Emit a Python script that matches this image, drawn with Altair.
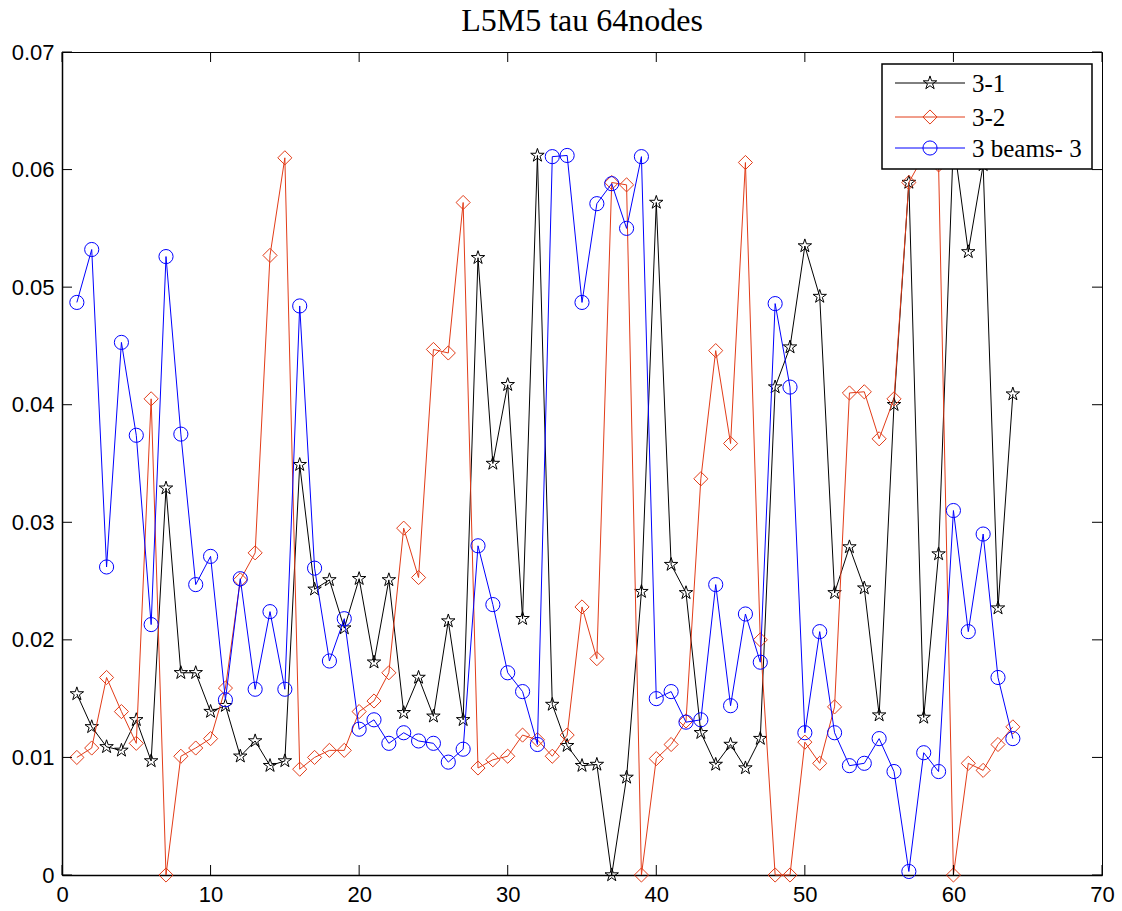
import altair as alt
import pandas as pd

# ---------------- data ----------------
x_idx = list(range(1, 65))

s31 = [0.0154, 0.0126, 0.0109, 0.0106, 0.0132, 0.0097, 0.0329, 0.0172, 0.0172, 0.0139,
       0.0144, 0.0101, 0.0114, 0.0093, 0.0097, 0.0349, 0.0243, 0.0251, 0.0210, 0.0252,
       0.0181, 0.0251, 0.0138, 0.0168, 0.0135, 0.0216, 0.0132, 0.0525, 0.0350, 0.0417,
       0.0218, 0.0612, 0.0145, 0.0110, 0.0093, 0.0094, 0.0000, 0.0083, 0.0241, 0.0572,
       0.0264, 0.0240, 0.0121, 0.0094, 0.0111, 0.0091, 0.0116, 0.0415, 0.0449, 0.0535,
       0.0492, 0.0240, 0.0279, 0.0244, 0.0136, 0.0400, 0.0589, 0.0134, 0.0273, 0.0625,
       0.0530, 0.0604, 0.0227, 0.0409]

s32 = [0.0100, 0.0108, 0.0168, 0.0139, 0.0112, 0.0405, 0.0000, 0.0101, 0.0108, 0.0116,
       0.0159, 0.0251, 0.0274, 0.0527, 0.0610, 0.0090, 0.0100, 0.0106, 0.0106, 0.0139,
       0.0148, 0.0172, 0.0295, 0.0253, 0.0447, 0.0444, 0.0572, 0.0091, 0.0098, 0.0101,
       0.0119, 0.0115, 0.0101, 0.0119, 0.0228, 0.0184, 0.0589, 0.0587, 0.0000, 0.0099,
       0.0111, 0.0131, 0.0337, 0.0446, 0.0367, 0.0606, 0.0200, 0.0000, 0.0000, 0.0113,
       0.0095, 0.0143, 0.0410, 0.0411, 0.0371, 0.0405, 0.0589, 0.0612, 0.0604, 0.0000,
       0.0095, 0.0089, 0.0111, 0.0126]

s3b = [0.0487, 0.0532, 0.0262, 0.0453, 0.0374, 0.0213, 0.0526, 0.0375, 0.0247, 0.0271,
       0.0149, 0.0252, 0.0158, 0.0224, 0.0158, 0.0484, 0.0261, 0.0182, 0.0218, 0.0124,
       0.0132, 0.0112, 0.0121, 0.0114, 0.0112, 0.0096, 0.0107, 0.0280, 0.0230, 0.0172,
       0.0156, 0.0111, 0.0611, 0.0612, 0.0487, 0.0571, 0.0588, 0.0550, 0.0611, 0.0150,
       0.0156, 0.0130, 0.0132, 0.0247, 0.0144, 0.0222, 0.0181, 0.0486, 0.0415, 0.0121,
       0.0207, 0.0121, 0.0093, 0.0095, 0.0116, 0.0088, 0.0003, 0.0104, 0.0088, 0.0310,
       0.0207, 0.0290, 0.0168, 0.0116]

series_names = ["3-1", "3-2", "3 beams- 3"]
series_colors = ["#000000", "#e23c18", "#0000ff"]
STAR = ("M0,-1L0.225,-0.309L0.951,-0.309L0.363,0.118L0.588,0.809L0,0.382"
        "L-0.588,0.809L-0.363,0.118L-0.951,-0.309L-0.225,-0.309Z")
series_shapes = [STAR, "diamond", "circle"]

xticks = [0, 10, 20, 30, 40, 50, 60, 70]
yticks = [0, 0.01, 0.02, 0.03, 0.04, 0.05, 0.06, 0.07]
title_text = "L5M5 tau 64nodes"

# ---------------- build ----------------
W, H = 1040, 823
TL = 10  # inward tick length

rows = []
for name, vals in zip(series_names, [s31, s32, s3b]):
    for i, v in zip(x_idx, vals):
        rows.append({"x": i, "y": v, "series": name})
df = pd.DataFrame(rows)

xscale = alt.Scale(domain=[0, 70], nice=False, zero=False)
yscale = alt.Scale(domain=[0, 0.07], nice=False, zero=False)
cscale = alt.Scale(domain=series_names, range=series_colors)
sscale = alt.Scale(domain=series_names, range=series_shapes)

xaxis = alt.Axis(values=xticks, format="d", title=None, labelPadding=9)
yaxis = alt.Axis(values=yticks, format=".2~f", title=None, labelPadding=8)

layers = []
for k, name in enumerate(series_names):
    b = alt.Chart(df).transform_filter(alt.datum.series == name)
    enc = dict(
        x=alt.X("x:Q", scale=xscale, axis=xaxis),
        y=alt.Y("y:Q", scale=yscale, axis=yaxis),
        color=alt.Color("series:N", scale=cscale, legend=None),
    )
    layers.append(b.mark_line(strokeWidth=1, clip=False).encode(**enc))
    layers.append(
        b.mark_point(filled=False, strokeWidth=1, size=200, opacity=1, clip=False).encode(
            shape=alt.Shape("series:N", scale=sscale, legend=None), **enc
        )
    )

# inward ticks on all four sides (MATLAB style box)
ytick_df = pd.DataFrame({"y": yticks})
xtick_df = pd.DataFrame({"x": xticks})
tick_style = dict(color="black", strokeWidth=1)
left_t = alt.Chart(ytick_df).mark_rule(**tick_style).encode(
    y=alt.Y("y:Q", scale=yscale, axis=yaxis), x=alt.value(0), x2=alt.value(TL))
right_t = alt.Chart(ytick_df).mark_rule(**tick_style).encode(
    y=alt.Y("y:Q", scale=yscale, axis=yaxis), x=alt.value(W - TL), x2=alt.value(W))
bot_t = alt.Chart(xtick_df).mark_rule(**tick_style).encode(
    x=alt.X("x:Q", scale=xscale, axis=xaxis), y=alt.value(H - TL), y2=alt.value(H))
top_t = alt.Chart(xtick_df).mark_rule(**tick_style).encode(
    x=alt.X("x:Q", scale=xscale, axis=xaxis), y=alt.value(0), y2=alt.value(TL))

# legend box (MATLAB style: line + marker + label)
one = pd.DataFrame({"d": [0]})
LX0, LX1, LY0, LY1 = 820, 1030, 12, 117
legend_layers = [
    alt.Chart(one).mark_rect(fill="white", stroke="black", strokeWidth=1.5).encode(
        x=alt.value(LX0), x2=alt.value(LX1), y=alt.value(LY0), y2=alt.value(LY1))
]
row_y = [31, 65, 96]
for name, col, shp, ry in zip(series_names, series_colors, series_shapes, row_y):
    legend_layers.append(
        alt.Chart(one).mark_rule(color=col, strokeWidth=1).encode(
            x=alt.value(833), x2=alt.value(903), y=alt.value(ry)))
    legend_layers.append(
        alt.Chart(one).mark_point(shape=shp, filled=False, color=col, size=200,
                                  strokeWidth=1, opacity=1).encode(
            x=alt.value(868), y=alt.value(ry)))
    legend_layers.append(
        alt.Chart(one).mark_text(align="left", baseline="middle", font="Liberation Serif",
                                 fontSize=25, color="black").encode(
            x=alt.value(910), y=alt.value(ry + 1), text=alt.value(name)))

chart = alt.layer(*layers, left_t, right_t, bot_t, top_t, *legend_layers).properties(
    width=W,
    height=H,
    autosize=alt.AutoSizeParams(type="none"),
    padding={"left": 62, "top": 52, "right": 20, "bottom": 36},
    title=alt.TitleParams(title_text, font="Liberation Serif", fontSize=32,
                          fontWeight="normal", color="black", anchor="middle",
                          frame="group", offset=3),
).configure_view(stroke="black", strokeWidth=1).configure_axis(
    grid=False, ticks=False, domainColor="black", domainWidth=1.5,
    labelColor="black", labelFont="Liberation Sans", labelFontSize=22,
    labelFlush=False, labelOverlap=False,
)

chart.save("out.html", embed_options={"renderer": "svg", "actions": False})
